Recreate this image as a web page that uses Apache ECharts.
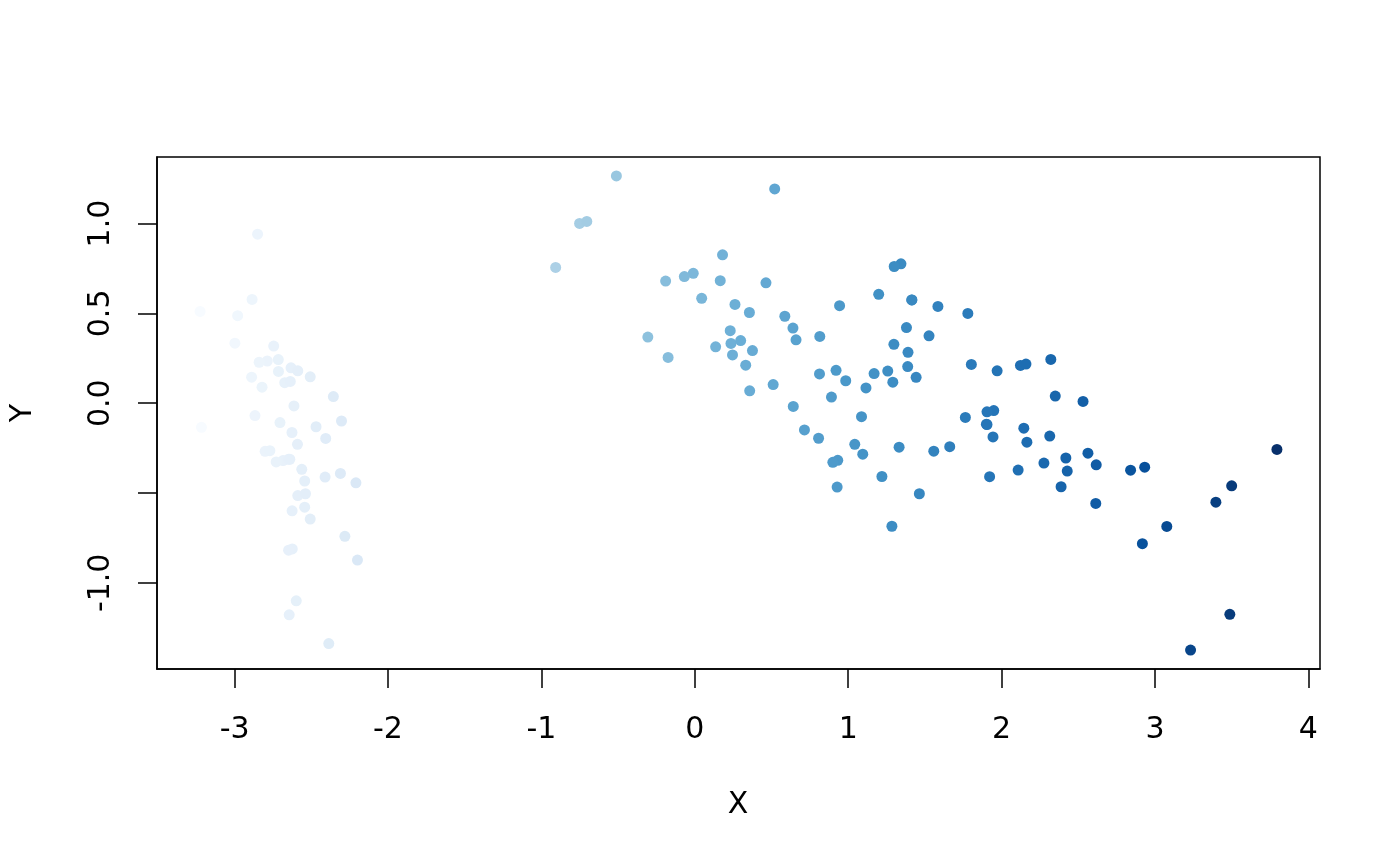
<!DOCTYPE html>
<html>
<head>
<meta charset="utf-8">
<script src="https://cdn.jsdelivr.net/npm/echarts@6/dist/echarts.min.js"></script>
<style>html,body{margin:0;padding:0;background:#fff;}#chart{width:1400px;height:866px;}</style>
</head>
<body>
<div id="chart"></div>
<script>
// X values (first component)
const xValues = [
-2.684,-2.714,-2.889,-2.745,-2.729,-2.281,-2.821,-2.626,-2.886,-2.673,
-2.507,-2.613,-2.787,-3.225,-2.644,-2.386,-2.624,-2.648,-2.199,-2.588,
-2.310,-2.543,-3.216,-2.303,-2.356,-2.507,-2.469,-2.562,-2.640,-2.632,
-2.588,-2.410,-2.648,-2.598,-2.637,-2.867,-2.625,-2.801,-2.980,-2.590,
-2.770,-2.850,-2.998,-2.406,-2.209,-2.715,-2.538,-2.840,-2.543,-2.704,
1.285,0.932,1.464,0.181,1.087,0.640,1.095,-0.751,1.043,-0.010,
-0.511,0.511,0.262,0.984,-0.174,0.928,0.660,0.236,0.944,0.045,
1.116,0.358,1.298,0.921,0.715,0.900,1.332,1.558,0.813,-0.306,
-0.068,-0.190,0.136,1.380,0.587,0.807,1.220,0.815,0.246,0.166,
0.464,0.891,0.231,-0.704,0.356,0.332,0.376,0.642,-0.907,0.299,
2.531,1.415,2.617,1.971,2.350,3.397,0.521,2.933,2.321,2.918,
1.662,1.803,2.165,1.344,1.585,1.905,1.949,3.488,3.795,1.300,
2.428,1.199,3.500,1.388,2.276,2.614,1.258,1.291,2.123,2.388,
2.841,3.232,2.159,1.443,1.780,3.077,2.145,1.905,1.169,2.108,
2.314,1.922,1.415,2.563,2.419,1.944,1.527,1.764,1.901,1.390
];
// Y values (second component)
const yValues = [
-0.319,0.177,0.145,0.318,-0.327,-0.741,0.089,-0.163,0.578,0.114,
-0.645,-0.015,0.235,0.511,-1.178,-1.338,-0.811,-0.312,-0.873,-0.514,
-0.391,-0.433,-0.134,-0.099,0.037,0.147,-0.131,-0.368,-0.312,0.197,
0.180,-0.411,-0.818,-1.100,0.121,-0.069,-0.599,-0.268,0.487,-0.229,
-0.264,0.941,0.334,-0.196,-0.443,0.243,-0.504,0.228,-0.579,-0.108,
-0.685,-0.318,-0.504,0.826,-0.075,0.418,-0.284,1.001,-0.229,0.723,
1.265,0.104,0.550,0.125,0.255,-0.467,0.353,0.333,0.543,0.584,
0.085,0.069,0.328,0.183,-0.149,-0.329,-0.245,-0.267,0.163,0.368,
0.705,0.680,0.314,0.421,0.484,-0.195,-0.408,0.372,0.269,0.682,
0.670,0.034,0.404,1.012,0.505,0.212,0.293,-0.018,0.756,0.349,
0.010,0.575,-0.343,0.180,0.040,-0.551,1.193,-0.356,0.244,-0.782,
-0.242,0.216,-0.217,0.776,0.539,-0.119,-0.041,-1.175,-0.257,0.761,
-0.378,0.606,-0.460,0.204,-0.333,-0.558,0.179,0.117,0.210,-0.465,
-0.373,-1.374,0.218,0.144,0.500,-0.686,-0.139,-0.048,0.165,-0.372,
-0.183,-0.409,0.575,-0.278,-0.305,-0.188,0.375,-0.079,-0.117,0.283
];
const xTicks = [-3,-2,-1,0,1,2,3,4];
const yTicks = [-1,-0.5,0,0.5,1];
const yTickLabels = [-1,0,0.5,1];
const blues = ['#F7FBFF','#DEEBF7','#C6DBEF','#9ECAE1','#6BAED6','#4292C6','#2171B5','#08519C','#08306B'];

const points = xValues.map((x,i)=>[x,yValues[i]]);
const xMin = Math.min(...xValues), xMax = Math.max(...xValues);
const yMin = Math.min(...yValues), yMax = Math.max(...yValues);
const xr = xMax-xMin, yr = yMax-yMin;
const FONT = '"DejaVu Sans", sans-serif';

const chart = echarts.init(document.getElementById('chart'), null, {renderer:'canvas'});
chart.setOption({
  animation:false,
  backgroundColor:'#fff',
  grid:{left:157,right:80,top:157,bottom:197,show:true,borderColor:'#000',borderWidth:1.5,backgroundColor:'transparent'},
  xAxis:{
    type:'value', min:xMin-0.04*xr, max:xMax+0.04*xr,
    splitLine:{show:false}, axisLine:{show:true,onZero:false,lineStyle:{color:'#000',width:1.5}},
    axisTick:{show:true,length:19,lineStyle:{color:'#000',width:1.5},customValues:xTicks},
    axisLabel:{customValues:xTicks,fontSize:30,fontFamily:FONT,color:'#000',margin:46,formatter:v=>String(v)}
  },
  yAxis:{
    type:'value', min:yMin-0.04*yr, max:yMax+0.04*yr,
    splitLine:{show:false}, axisLine:{show:true,onZero:false,lineStyle:{color:'#000',width:1.5}},
    axisTick:{show:true,length:19,lineStyle:{color:'#000',width:1.5},customValues:yTicks},
    axisLabel:{customValues:yTickLabels,rotate:90,fontSize:30,fontFamily:FONT,color:'#000',margin:41,formatter:v=>Number(v).toFixed(1)}
  },
  visualMap:{show:false,type:'continuous',dimension:0,min:xMin,max:xMax,inRange:{color:blues}},
  series:[{type:'scatter',data:points,symbol:'circle',symbolSize:11,itemStyle:{opacity:1}}],
  graphic:[
    {type:'text',x:738,y:805,style:{text:'X',fontSize:30,fontFamily:FONT,fill:'#000',textAlign:'center',textVerticalAlign:'middle'}},
    {type:'text',x:23,y:413,rotation:Math.PI/2,style:{text:'Y',fontSize:30,fontFamily:FONT,fill:'#000',textAlign:'center',textVerticalAlign:'middle'}}
  ]
});
</script>
</body>
</html>
